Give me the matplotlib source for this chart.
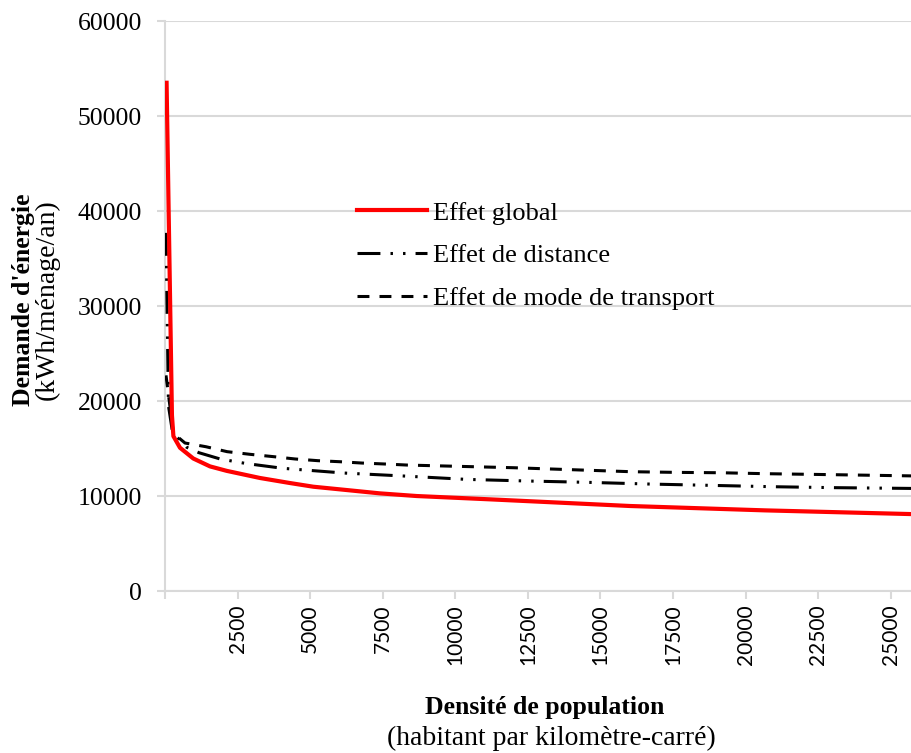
import matplotlib.pyplot as plt

# population density (inhabitants per km2) and energy demand (kWh / household / year)
x_global = [55, 240, 290, 517, 975, 1550, 2125, 3270, 4300, 5110, 6260, 7400, 8670,
            11200, 16020, 20670, 25700]
effet_global = [53500, 18500, 16300, 15080, 13950, 13120, 12650, 11900, 11370, 10980, 10630,
                10280, 10000, 9650, 8950, 8490, 8100]

x_distance = [35, 120, 260, 750, 1170, 1900, 2760, 3200, 4050, 6170, 8270, 10400, 12500,
              14570, 16700, 18840, 20940, 23080, 25700]
effet_distance = [37700, 19500, 16700, 15130, 14560, 13900, 13440, 13260, 12920, 12420, 12100,
                  11750, 11580, 11440, 11260, 11120, 10980, 10880, 10800]

x_mode = [35, 290, 690, 1410, 2140, 2930, 3750, 4480, 5270, 6030, 6790, 7580, 8340, 12000,
          16050, 17600, 19150, 20700, 22290, 23800, 25700]
effet_mode = [22700, 16600, 15580, 15190, 14670, 14390, 14140, 13900, 13720, 13610, 13470,
              13370, 13260, 12980, 12560, 12490, 12450, 12350, 12280, 12210, 12120]

xticks = list(range(0, 25001, 2500))
xtick_labels = [""] + [str(t) for t in xticks[1:]]
yticks = list(range(0, 60001, 10000))

plt.rcParams["font.family"] = ["Liberation Serif", "DejaVu Serif"]
GRID = "#d9d9d9"

fig = plt.figure(figsize=(9.11, 7.53), dpi=100)
ax = fig.add_axes([0.1811, 0.2151, 0.8189, 0.757])

ax.plot(x_global, effet_global, color="#ff0000", lw=3.0, label="Effet global", zorder=4)
ax.plot(x_distance, effet_distance, color="black", lw=2.2,
        linestyle=(0, (7.5, 3.3, 0.8, 3.3, 0.8, 3.3)), label="Effet de distance", zorder=3)
ax.plot(x_mode, effet_mode, color="black", lw=2.2,
        linestyle=(0, (3.9, 3.3)), label="Effet de mode de transport", zorder=3)

ax.set_xlim(0, 25700)
ax.set_ylim(0, 60000)
ax.set_xticks(xticks)
ax.set_xticklabels(xtick_labels, rotation=90, family="Lato", fontsize=15)
ax.set_yticks(yticks)
ax.set_yticklabels([str(t) for t in yticks], fontsize=18.5)

ax.grid(axis="y", color=GRID, lw=1.5, zorder=0)
ax.set_axisbelow(True)
for s in ["top", "right"]:
    ax.spines[s].set_visible(False)
for s in ["left", "bottom"]:
    ax.spines[s].set_color(GRID)
    ax.spines[s].set_linewidth(1.5)
ax.tick_params(axis="both", color=GRID, width=1.5, length=5.5)
ax.tick_params(axis="y", pad=11)
ax.tick_params(axis="x", pad=4)

ax.legend(loc="upper left", bbox_to_anchor=(0.2574, 0.684), frameon=False,
          fontsize=19, handlelength=2.65, handletextpad=0.23, labelspacing=0.73,
          borderaxespad=0, borderpad=0)

fig.text(0.026, 0.6016, "Demande d'énergie", rotation=90, fontsize=18.5, fontweight="bold",
         ha="center", va="center")
fig.text(0.052, 0.6016, "(kWh/ménage/an)", rotation=90, fontsize=20, ha="center", va="center")
fig.text(0.598, 0.061, "Densité de population", fontsize=18.5, fontweight="bold",
         ha="center", va="center")
fig.text(0.605, 0.020, "(habitant par kilomètre-carré)", fontsize=20, ha="center", va="center")

fig.savefig("out.png", dpi=100)
